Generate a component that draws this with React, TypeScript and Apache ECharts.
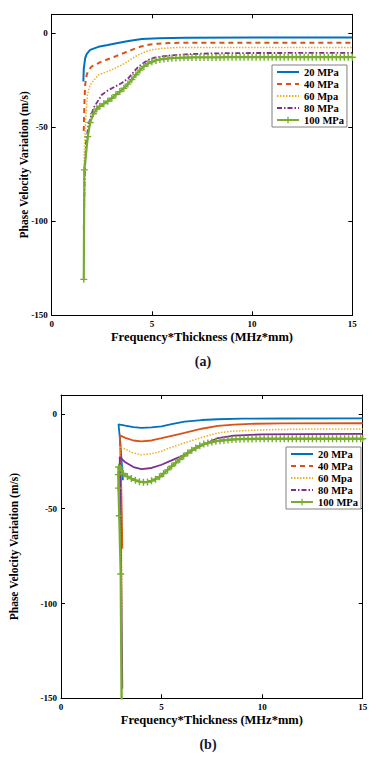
import React, { useEffect, useRef } from "react";
import * as echarts from "echarts";

const xTickValues = [0, 5, 10, 15];
const yTickValues = [-150, -100, -50, 0];
const seriesNames = ["20 MPa", "40 MPa", "60 Mpa", "80 MPa", "100 MPa"];
const seriesColors = ["#0072BD", "#D95319", "#EDB120", "#7E2F8E", "#77AC30"];
const panelLabels = ["(a)", "(b)"];
const xTitle = "Frequency*Thickness (MHz*mm)";
const yTitle = "Phase Velocity Variation (m/s)";

// ---------- panel (a) ----------
const a20 = [[1.58, -25.7], [1.6, -19], [1.67, -13.3], [1.75, -11], [1.92, -8.9], [2.33, -7.3], [2.8, -6.3], [3.17, -5.5], [3.83, -4.2], [4.5, -3.1], [5.33, -2.7], [6.7, -2.4], [10, -2.3], [15, -2.3]];
const a40 = [[1.6, -52], [1.63, -38], [1.67, -27.5], [1.75, -22], [1.85, -19.5], [2.0, -17.7], [2.5, -15.1], [3.17, -12.4], [3.6, -10.6], [4.0, -8.9], [4.4, -7.3], [4.83, -6.2], [5.3, -5.6], [5.83, -5.3], [6.67, -5.1], [15, -5.1]];
const a60 = [[1.6, -78], [1.63, -62], [1.7, -45], [1.78, -33], [1.92, -27.5], [2.33, -22.2], [3.0, -19.5], [3.67, -16], [4.0, -13.6], [4.33, -11.5], [4.7, -9.8], [5.0, -8.9], [5.5, -8.1], [6.2, -7.7], [8, -7.6], [15, -7.6]];
const a80 = [[1.6, -104], [1.65, -75], [1.72, -58], [1.83, -48.8], [2.08, -39.9], [2.5, -32.8], [2.8, -30.5], [3.17, -28.4], [3.5, -26.5], [3.83, -23.9], [4.1, -20.5], [4.33, -17.8], [4.6, -15.8], [4.83, -14.2], [5.1, -13.1], [5.5, -12.4], [6.0, -11.8], [6.67, -11.3], [7.5, -10.9], [9, -10.6], [15, -10.5]];
const a100 = [[1.6, -130.9], [1.63, -72.7], [1.8, -55], [1.92, -47.5], [2.08, -42.9], [2.25, -40.3], [2.4, -38.9], [2.6, -37.5], [2.8, -36.2], [3.0, -34.6], [3.2, -32.7], [3.4, -31.1], [3.6, -29.3], [3.8, -27.1], [4.0, -24.7], [4.2, -22.1], [4.4, -19.7], [4.6, -17.7], [4.8, -16.2], [5.0, -15.2], [5.2, -14.5], [5.4, -14.0], [5.6, -13.7], [5.8, -13.5], [6.0, -13.3], [6.2, -13.2], [6.4, -13.1], [6.6, -13.0], [6.8, -13.0], [7.0, -12.9], [7.2, -12.9], [7.4, -12.9], [7.6, -12.9], [7.8, -12.9], [8.0, -12.9], [8.2, -12.9], [8.4, -12.9], [8.6, -12.8], [8.8, -12.8], [9.0, -12.8], [9.2, -12.8], [9.4, -12.8], [9.6, -12.8], [9.8, -12.8], [10.0, -12.8], [10.2, -12.8], [10.4, -12.8], [10.6, -12.8], [10.8, -12.8], [11.0, -12.8], [11.2, -12.8], [11.4, -12.8], [11.6, -12.8], [11.8, -12.8], [12.0, -12.8], [12.2, -12.8], [12.4, -12.8], [12.6, -12.8], [12.8, -12.8], [13.0, -12.8], [13.2, -12.8], [13.4, -12.8], [13.6, -12.8], [13.8, -12.8], [14.0, -12.8], [14.2, -12.8], [14.4, -12.8], [14.6, -12.8], [14.8, -12.8], [15.0, -12.8]];

// ---------- panel (b) ----------
const b20 = [[3.08, -35], [2.95, -15], [2.86, -5.5], [3.2, -6.2], [3.6, -7.0], [4.0, -7.3], [4.5, -7.1], [5.0, -6.5], [5.5, -5.4], [6.14, -4.1], [7.0, -3.2], [7.8, -2.8], [9, -2.5], [11, -2.4], [15, -2.3]];
const b40 = [[3.05, -71], [3.0, -40], [2.95, -20], [2.92, -11.3], [3.2, -12.6], [3.6, -14.0], [4.0, -14.5], [4.5, -14.0], [5.0, -12.8], [5.5, -11.5], [6.14, -10.0], [7.0, -7.8], [7.8, -6.3], [8.6, -5.6], [9.4, -5.2], [11, -5.0], [15, -4.9]];
const b60 = [[3.03, -105], [3.0, -60], [2.95, -30], [2.92, -17.1], [3.2, -18.6], [3.6, -20.6], [4.0, -21.5], [4.5, -21.0], [5.0, -19.6], [5.5, -17.5], [6.14, -15.3], [7.0, -12.4], [7.8, -10.0], [8.6, -9.0], [10.3, -8.3], [12, -8.0], [15, -7.9]];
const b80 = [[3.05, -145], [3.0, -90], [2.95, -40], [2.92, -22.7], [3.2, -25.5], [3.6, -28], [4.0, -29.1], [4.5, -28.5], [5.0, -26.8], [5.5, -24.5], [6.14, -21.5], [7.0, -16.5], [7.8, -12.7], [8.6, -11.4], [10, -10.8], [12, -10.6], [15, -10.5]];
const b100 = [[3.02, -160], [2.97, -84.4], [2.9, -53.7], [2.86, -39.1], [2.85, -32], [2.87, -28], [2.95, -28.6], [3.1, -31.4], [3.3, -33], [3.5, -34.1], [3.7, -35], [3.9, -35.7], [4.1, -36], [4.3, -35.9], [4.5, -35.3], [4.7, -34.4], [4.9, -33.1], [5.1, -31.4], [5.3, -29.5], [5.5, -27.6], [5.7, -25.8], [5.9, -24.0], [6.1, -22.2], [6.3, -20.6], [6.5, -19.1], [6.7, -17.9], [6.9, -16.8], [7.1, -15.9], [7.3, -15.3], [7.5, -14.8], [7.7, -14.4], [7.9, -14.1], [8.1, -13.9], [8.3, -13.7], [8.5, -13.5], [8.7, -13.4], [8.9, -13.3], [9.1, -13.2], [9.3, -13.2], [9.5, -13.2], [9.7, -13.1], [9.9, -13.1], [10.1, -13.1], [10.3, -13.1], [10.5, -13.1], [10.7, -13.1], [10.9, -13.1], [11.1, -13.1], [11.3, -13.1], [11.5, -13.1], [11.7, -13.1], [11.9, -13.1], [12.1, -13.1], [12.3, -13.1], [12.5, -13.1], [12.7, -13.1], [12.9, -13.1], [13.1, -13.1], [13.3, -13.1], [13.5, -13.1], [13.7, -13.1], [13.9, -13.1], [14.1, -13.1], [14.3, -13.1], [14.5, -13.1], [14.7, -13.1], [14.9, -13.1], [15.0, -13.1]];

const panelA = [a20, a40, a60, a80, a100];
const panelB = [b20, b40, b60, b80, b100];

const FONT = "'Liberation Serif', 'Times New Roman', serif";
const PLUS = "path://M4,0H6V4H10V6H6V10H4V6H0V4H4Z";

const lineStyles: any[] = [
  { width: 2, type: "solid" },
  { width: 2, type: [5, 4] },
  { width: 1.5, type: [1.5, 1.5] },
  { width: 1.8, type: [5, 2, 1.5, 2] },
  { width: 2.2, type: "solid" },
];
const lineStylesB: any[] = [
  { width: 1.8, type: "solid" },
  { width: 1.8, type: "solid" },
  { width: 1.5, type: [1.5, 1.5] },
  { width: 1.8, type: "solid" },
  { width: 2.4, type: "solid" },
];

export default function App() {
  const ref = useRef<HTMLDivElement>(null);
  useEffect(() => {
    if (!ref.current) return;
    const chart = echarts.init(ref.current, null, { renderer: "svg" });
    const grids = [
      { left: 51.7, top: 14.3, width: 300.6, height: 301 },
      { left: 59.3, top: 395, width: 303.4, height: 303.3 },
    ];
    const xAxes: any[] = [];
    const yAxes: any[] = [];
    const yTitleGaps = [22, 41];
    grids.forEach((g, gi) => {
      const common = {
        gridIndex: gi,
        type: "value",
        axisLine: { show: true, onZero: false, lineStyle: { color: "#000", width: 1 } },
        axisTick: { show: true, inside: true, length: 4, lineStyle: { color: "#000" } },
        splitLine: { show: false },
      };
      xAxes.push({
        ...common,
        position: "bottom",
        min: 0,
        max: 15,
        interval: 5,
        name: xTitle,
        nameLocation: "middle",
        nameGap: 15,
        nameMoveOverlap: false,
        nameTextStyle: { fontFamily: FONT, fontWeight: "bold", fontSize: 12.5, color: "#000" },
        axisLabel: { margin: 4, fontFamily: FONT, fontWeight: "bold", fontSize: 9, color: "#000" },
      });
      xAxes.push({
        ...common,
        position: "top",
        min: 0,
        max: 15,
        interval: 5,
        axisLabel: { show: false },
      });
      yAxes.push({
        ...common,
        position: "left",
        min: -150,
        max: 10,
        interval: 50,
        name: yTitle,
        nameLocation: "middle",
        nameGap: yTitleGaps[gi],
        nameRotate: 90,
        nameMoveOverlap: false,
        nameTextStyle: { fontFamily: FONT, fontWeight: "bold", fontSize: 11.5, color: "#000" },
        axisLabel: {
          margin: 4,
          fontFamily: FONT,
          fontWeight: "bold",
          fontSize: 9,
          color: "#000",
          formatter: (v: number) => (yTickValues.includes(v) ? String(v) : ""),
        },
      });
      yAxes.push({
        ...common,
        position: "right",
        min: -150,
        max: 10,
        interval: 50,
        axisLabel: { show: false },
      });
    });

    const series: any[] = [];
    [panelA, panelB].forEach((panel, pi) => {
      panel.forEach((data, si) => {
        const isGreen = si === 4;
        const ls = pi === 0 ? lineStyles[si] : lineStylesB[si];
        series.push({
          type: "line",
          name: seriesNames[si],
          xAxisIndex: pi * 2,
          yAxisIndex: pi * 2,
          data,
          color: seriesColors[si],
          lineStyle: { color: seriesColors[si], ...ls },
          symbol: isGreen ? PLUS : "none",
          symbolSize: isGreen ? 7 : 0,
          showSymbol: isGreen,
          itemStyle: { color: seriesColors[si] },
          clip: true,
          z: 2 + si,
        });
      });
    });

    const legendData = seriesNames.map((n, i) =>
      i === 4 ? { name: n } : { name: n, itemStyle: { opacity: 0 } }
    );

    const legendCommon = {
      orient: "vertical",
      data: legendData,
      itemWidth: 22,
      itemHeight: 8,
      itemGap: 0,
      padding: [1, 3, 1, 4],
      backgroundColor: "#fff",
      borderColor: "#808080",
      borderWidth: 1,
      selectedMode: false,
      textStyle: { fontFamily: FONT, fontWeight: "bold", fontSize: 10.5, color: "#000", lineHeight: 12 },
    };

    chart.setOption({
      animation: false,
      backgroundColor: "#fff",
      grid: grids,
      xAxis: xAxes,
      yAxis: yAxes,
      series,
      legend: [
        { ...legendCommon, left: 272, top: 65 },
        { ...legendCommon, left: 286, top: 447 },
      ],
      graphic: [
        {
          type: "text",
          x: 203,
          y: 361,
          style: { text: panelLabels[0], fontFamily: FONT, fontWeight: "bold", fontSize: 14, fill: "#141432", textAlign: "center", textVerticalAlign: "middle" },
        },
        {
          type: "text",
          x: 208,
          y: 744,
          style: { text: panelLabels[1], fontFamily: FONT, fontWeight: "bold", fontSize: 14, fill: "#141432", textAlign: "center", textVerticalAlign: "middle" },
        },
      ],
    });
    return () => chart.dispose();
  }, []);
  return <div ref={ref} style={{ position: "absolute", left: 0, top: 0, width: 377, height: 758 }} />;
}
